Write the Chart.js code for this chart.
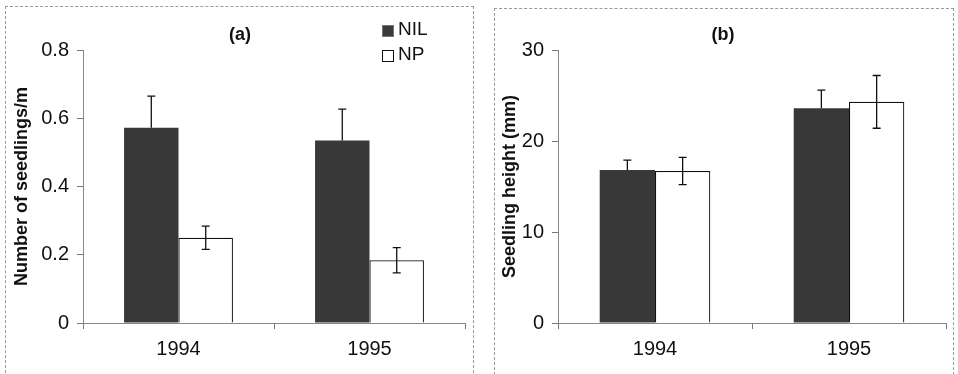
<!DOCTYPE html>
<html lang="en">
<head>
  <meta charset="UTF-8">
  <title>Seedlings NIL vs NP</title>
  <script src="https://cdn.jsdelivr.net/npm/chart.js@4.4.3/dist/chart.umd.min.js"></script>
  <style>
    body { margin: 0; background: #fff; font-family: "Liberation Sans", Arial, sans-serif; }
    #wrap { position: relative; width: 958px; height: 374px; overflow: hidden; }
    canvas { position: absolute; top: 0; }
    .frame { position: absolute; border: 1px dashed #9a9a9a; height: 400px; }
    .lbl { position: absolute; color: #111; white-space: nowrap; }
    .title { font-weight: bold; font-size: 18px; transform: translateX(-50%); }
    .legend { font-size: 19px; }
    .box { position: absolute; width: 12px; height: 12px; box-sizing: border-box; }
  </style>
</head>
<body>
  <div id="wrap">
    <div class="frame" style="left:5px; top:6px; width:467px;"></div>
    <div class="frame" style="left:494px; top:8px; width:458px;"></div>
    <canvas id="chartA" width="478" height="374" style="left:0"></canvas>
    <canvas id="chartB" width="480" height="374" style="left:478px"></canvas>
    <div class="lbl title" style="left:240px; top:24px;">(a)</div>
    <div class="lbl title" style="left:723px; top:24px;">(b)</div>
    <div class="box" style="left:382px; top:25px; background:#3a3a3a; border:1px solid #777;"></div>
    <div class="lbl legend" style="left:398px; top:18px;">NIL</div>
    <div class="box" style="left:382px; top:50px; background:#fff; border:1px solid #111;"></div>
    <div class="lbl legend" style="left:398px; top:43px;">NP</div>
  </div>

  <script>
    const years = ['1994', '1995'];

    // (a) number of seedlings per m
    const seedNil = [0.572, 0.535];
    const seedNilErr = [0.093, 0.092];
    const seedNp = [0.25, 0.184];
    const seedNpErr = [0.034, 0.037];
    const seedTicks = [0, 0.2, 0.4, 0.6, 0.8];

    // (b) seedling height (mm)
    const heightNil = [16.8, 23.6];
    const heightNilErr = [1.1, 2.0];
    const heightNp = [16.7, 24.3];
    const heightNpErr = [1.5, 2.9];
    const heightTicks = [0, 10, 20, 30];

    const FONT = '"Liberation Sans", Arial, sans-serif';
    const NIL_COLOR = '#383838';

    // error bars; the lower half is hidden inside the dark NIL bars
    const errorBars = {
      id: 'errorBars',
      afterDatasetsDraw(chart) {
        const ctx = chart.ctx;
        const y = chart.scales.y;
        ctx.save();
        ctx.strokeStyle = '#111';
        ctx.lineWidth = 1.3;
        chart.data.datasets.forEach((ds, i) => {
          const meta = chart.getDatasetMeta(i);
          meta.data.forEach((bar, j) => {
            const v = ds.data[j], e = ds.errors[j];
            const top = y.getPixelForValue(v + e);
            const bot = ds.upOnly ? y.getPixelForValue(v) : y.getPixelForValue(v - e);
            ctx.beginPath();
            ctx.moveTo(bar.x, top); ctx.lineTo(bar.x, bot);
            ctx.moveTo(bar.x - 4, top); ctx.lineTo(bar.x + 4, top);
            if (!ds.upOnly) { ctx.moveTo(bar.x - 4, bot); ctx.lineTo(bar.x + 4, bot); }
            ctx.stroke();
          });
        });
        ctx.restore();
      }
    };

    function makeChart(id, nil, nilErr, np, npErr, ticks, yTitle, yWidth, rightPad, titlePad) {
      const step = ticks[1] - ticks[0];
      return new Chart(document.getElementById(id), {
        type: 'bar',
        data: {
          labels: years,
          datasets: [
            { label: 'NIL', data: nil, errors: nilErr, upOnly: true, backgroundColor: NIL_COLOR, borderWidth: 0 },
            { label: 'NP', data: np, errors: npErr, backgroundColor: '#fff', borderColor: '#111', borderWidth: 1.2 }
          ]
        },
        options: {
          responsive: false,
          animation: false,
          categoryPercentage: 0.57,
          barPercentage: 1.0,
          layout: { padding: { top: 50, right: rightPad, left: 0, bottom: 0 } },
          plugins: { legend: { display: false }, tooltip: { enabled: false } },
          scales: {
            x: {
              grid: { drawOnChartArea: false, tickLength: 6, color: '#777', offset: true },
              border: { color: '#888', dash: [3, 2] },
              ticks: { color: '#111', padding: 8, font: { family: FONT, size: 20 } },
              afterFit: s => { s.height = 51; }
            },
            y: {
              min: ticks[0],
              max: ticks[ticks.length - 1],
              ticks: { stepSize: step, color: '#111', padding: 8, font: { family: FONT, size: 20 } },
              grid: { drawOnChartArea: false, tickLength: 6, color: '#777' },
              border: { color: '#888', dash: [3, 2] },
              title: {
                display: true, text: yTitle, color: '#111',
                padding: { top: 11, bottom: 0 },
                font: { family: FONT, size: 18, weight: 'bold' }
              },
              afterFit: s => { s.width = yWidth; }
            }
          }
        },
        plugins: [errorBars]
      });
    }

    makeChart('chartA', seedNil, seedNilErr, seedNp, seedNpErr, seedTicks,
      'Number of seedlings/m', 83, 13);
    makeChart('chartB', heightNil, heightNilErr, heightNp, heightNpErr, heightTicks,
      'Seedling height (mm)', 80, 12);
    // panel b title sits a little further right
    Chart.getChart('chartB').options.scales.y.title.padding.top = 21;
    Chart.getChart('chartB').update();
  </script>
</body>
</html>
